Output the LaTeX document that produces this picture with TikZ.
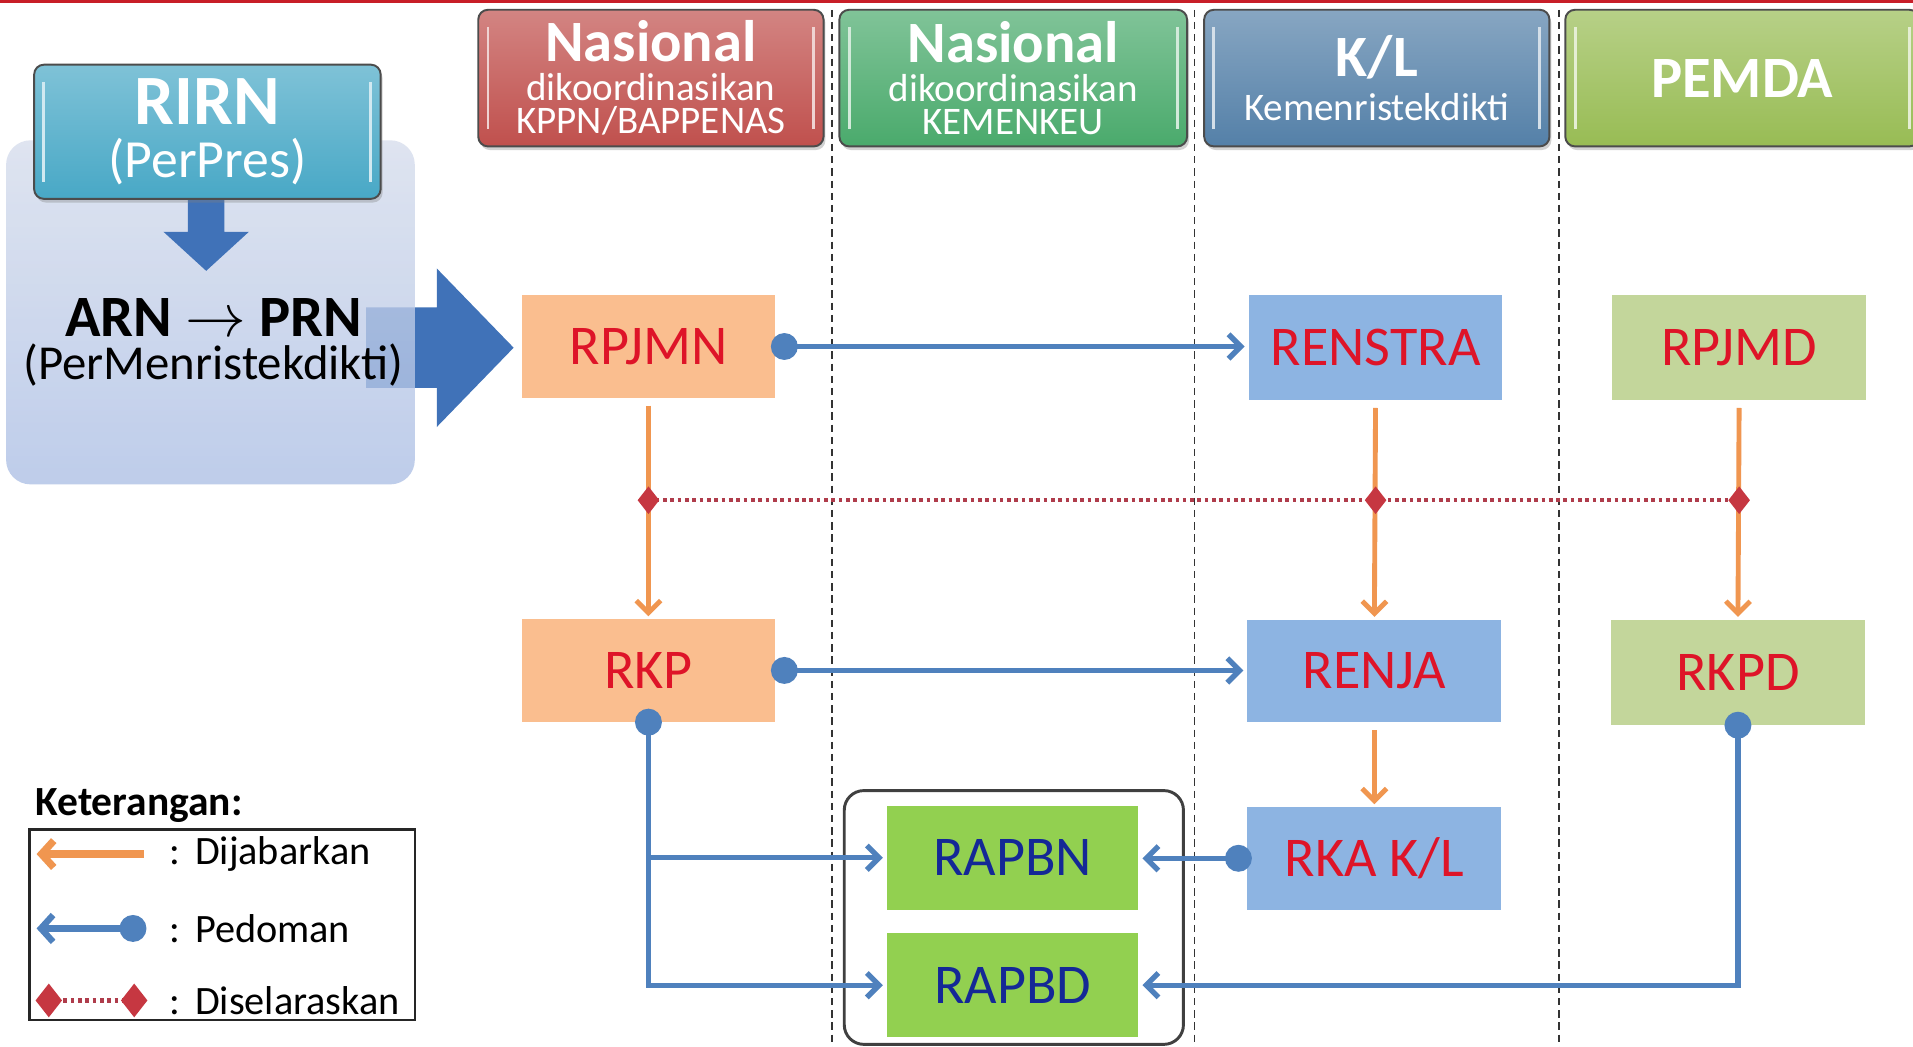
\documentclass[tikz,border=0pt]{standalone}
\usepackage{fontspec}
\setmainfont{Carlito}
\usetikzlibrary{arrows.meta,shapes.geometric,shadows}
\definecolor{hred}{RGB}{192,80,77}
\definecolor{hgreen}{RGB}{74,170,108}
\definecolor{hblue}{RGB}{84,128,168}
\definecolor{hlime}{RGB}{152,188,84}
\definecolor{rirncol}{RGB}{72,168,198}
\definecolor{barrow}{RGB}{64,114,184}
\definecolor{orfill}{RGB}{250,190,143}
\definecolor{blfill}{RGB}{141,180,226}
\definecolor{lgfill}{RGB}{195,214,155}
\definecolor{gnfill}{RGB}{146,208,80}
\definecolor{txtred}{RGB}{222,20,40}
\definecolor{txtblue}{RGB}{20,40,150}
\definecolor{conblue}{RGB}{79,129,189}
\definecolor{conor}{RGB}{240,150,80}
\definecolor{dred}{RGB}{198,55,65}
\definecolor{dotred}{RGB}{175,60,75}
\definecolor{topred}{RGB}{200,30,40}
\begin{document}
\begin{tikzpicture}[x=0.5pt,y=-0.5pt,
  hdr/.style={draw=black!70, line width=0.8pt, rounded corners=4pt,
    minimum width=141.5pt, minimum height=56pt, inner sep=0pt, align=center,
    text=white, top color=#1!70!white, bottom color=#1,
    drop shadow={opacity=0.35,shadow xshift=0.8pt,shadow yshift=-1.5pt},
    font=\fontsize{16}{13.5}\selectfont,
    path picture={\draw[white!75!#1, line width=1.2pt]
      ([xshift=4pt,yshift=-7pt]path picture bounding box.north west) --
      ([xshift=4pt,yshift=7pt]path picture bounding box.south west)
      ([xshift=-4pt,yshift=-7pt]path picture bounding box.north east) --
      ([xshift=-4pt,yshift=7pt]path picture bounding box.south east);}},
  procbox/.style={minimum width=104pt, minimum height=42pt, inner sep=0pt,
    font=\fontsize{23}{23}\selectfont, text=txtred, fill=#1},
  pedo/.style={conblue, line width=2.2pt,
    {Circle[length=11pt]}-{Straight Barb[length=5pt,width=10pt]},
    shorten <=-5.5pt, shorten >=1.5pt},
  pedoend/.style={conblue, line width=2.2pt,
    -{Straight Barb[length=5pt,width=10pt]}, shorten >=1.5pt},
  jab/.style={conor, line width=2pt, -{Straight Barb[length=5pt,width=10pt]},
    shorten <=3pt, shorten >=1pt},
  dia/.style={diamond, fill=dred, minimum width=9pt, minimum height=11.5pt, inner sep=0pt},
  seldot/.style={dotred, line width=1.6pt, dash pattern=on 1.5pt off 1.5pt},
  legtext/.style={anchor=west, font=\fontsize{16.5}{16.5}\selectfont}
]
\useasboundingbox (0,0) rectangle (1568,858);
\clip (0,0) rectangle (1568,858);
\fill[white] (0,0) rectangle (1568,858);
\fill[topred] (0,0) rectangle (1568,2.5);

% lane separators
\foreach \xx in {682,979,1278}
  \draw[black!80, line width=0.6pt, dash pattern=on 3pt off 2pt] (\xx,8) -- (\xx,858);

% headers
\node[hdr=hred] (h1) at (533.5,64)
  {{\fontsize{24}{24}\selectfont\bfseries Nasional}\\[2.5pt]dikoordinasikan\\KPPN/BAPPENAS};
\node[hdr=hgreen, minimum width=142.5pt] (h2) at (830.5,64)
  {{\fontsize{24}{24}\selectfont\bfseries Nasional}\\[2.5pt]dikoordinasikan\\KEMENKEU};
\node[hdr=hblue] (h3) at (1128.5,64)
  {{\fontsize{24}{24}\selectfont\bfseries K/L}\\[4.5pt]Kemenristekdikti};
\node[hdr=hlime, minimum width=145pt] (h4) at (1428,64)
  {{\fontsize{24}{24}\selectfont\bfseries PEMDA}};

% big arrow (behind panel)
\fill[barrow] (300,252) -- (358,252) -- (358,220) -- (421,285) -- (358,350)
  -- (358,318) -- (300,318) -- cycle;

% panel
\node[rounded corners=10pt, minimum width=167.5pt, minimum height=141pt,
  top color={rgb,255:red,214;green,221;blue,236}, bottom color={rgb,255:red,172;green,191;blue,229},
  fill opacity=0.78, inner sep=0pt] (panel) at (172.5,256) {};

% down arrow
\fill[barrow] (154,162) -- (184,162) -- (184,190) -- (204,190) -- (169,222)
  -- (134,190) -- (154,190) -- cycle;

\node[hdr=rirncol, minimum width=142pt, minimum height=55pt,
  font=\fontsize{22}{21.5}\selectfont] (rirn) at (170,108)
  {{\fontsize{29}{29}\selectfont\bfseries RIRN}\\(PerPres)};

\node[inner sep=0pt, font=\fontsize{24}{24}\selectfont\bfseries] (arn) at (175,260) {ARN $\rightarrow$ PRN};
\node[inner sep=0pt, font=\fontsize{20}{20}\selectfont] (perm) at (175,299) {(PerMenristekdikti)};

% process boxes
\node[procbox=orfill] (rpjmn) at (531.5,284) {RPJMN};
\node[procbox=orfill] (rkp) at (531.5,549.5) {RKP};
\node[procbox=blfill, minimum height=43pt] (renstra) at (1127.5,285) {RENSTRA};
\node[procbox=blfill] (renja) at (1126.5,550) {RENJA};
\node[procbox=blfill] (rka) at (1126.5,703.5) {RKA K/L};
\node[procbox=lgfill, minimum height=43pt] (rpjmd) at (1425.5,285) {RPJMD};
\node[procbox=lgfill, minimum height=43pt] (rkpd) at (1424.5,551) {RKPD};

% group box
\node[draw=black!75, line width=1.2pt, rounded corners=8pt, minimum width=139pt,
  minimum height=104pt, inner sep=0pt] (grp) at (831,752) {};
\node[procbox=gnfill, text=txtblue, minimum width=103pt, minimum height=42.5pt] (rapbn) at (830,703) {RAPBN};
\node[procbox=gnfill, text=txtblue, minimum width=103pt, minimum height=42.5pt] (rapbd) at (830,807.5) {RAPBD};

% orange (dijabarkan)
\draw[jab] (rpjmn.south) -- (rkp.north);
\draw[jab] (renstra.south) -- (renja.north);
\draw[jab] (rpjmd.south) -- (rkpd.north);
\draw[jab] (renja.south) -- (rka.north);

% diselaraskan
\coordinate (d1) at (rpjmn.south |- 0,410);
\coordinate (d2) at (renstra.south |- 0,410);
\coordinate (d3) at (rpjmd.south |- 0,410);
\draw[seldot] (d1) -- (d3);
\node[dia] (m1) at (d1) {};
\node[dia] (m2) at (d2) {};
\node[dia] (m3) at (d3) {};

% pedoman
\draw[pedo, shorten <=-2pt] (rpjmn.east) -- (rpjmn.east -| renstra.west);
\draw[pedo, shorten <=-2pt] (rkp.east) -- (rkp.east -| renja.west);
\draw[pedo, shorten <=-2pt] (rka.west) -- (rka.west -| rapbn.east);
\coordinate (j1) at (rkp.south |- rapbn.west);
\draw[pedo] (rkp.south) |- (rapbd.west);
\draw[pedoend] (j1) -- (rapbn.west);
\draw[pedo] (rkpd.south) |- (rapbd.east);

% legend
\node[anchor=west, font=\fontsize{17}{17}\selectfont\bfseries] (ket) at (22,660) {Keterangan:};
\node[draw=black!85, line width=1pt, minimum width=158pt, minimum height=78pt,
  inner sep=0pt] (legbox) at (182,758) {};
\coordinate (la1) at (118,700); \coordinate (la2) at (30,700);
\coordinate (lb1) at (120,761); \coordinate (lb2) at (30,761);
\coordinate (lc1) at (40,820); \coordinate (lc2) at (110,820);
\draw[conor, line width=3pt, -{Straight Barb[length=5pt,width=11pt]}] (la1) -- (la2);
\draw[conblue, line width=2.6pt, {Circle[length=11pt]}-{Straight Barb[length=5pt,width=11pt]}] (lb1) -- (lb2);
\draw[seldot, line width=2pt] (lc1) -- (lc2);
\node[dia, minimum width=11pt, minimum height=14pt] (lm1) at (lc1) {};
\node[dia, minimum width=11pt, minimum height=14pt] (lm2) at (lc2) {};
\node[legtext] (t1) at (132,700) {:\hspace{6pt}Dijabarkan};
\node[legtext] (t2) at (132,761) {:\hspace{6pt}Pedoman};
\node[legtext] (t3) at (132,820) {:\hspace{6pt}Diselaraskan};
\end{tikzpicture}
\end{document}
